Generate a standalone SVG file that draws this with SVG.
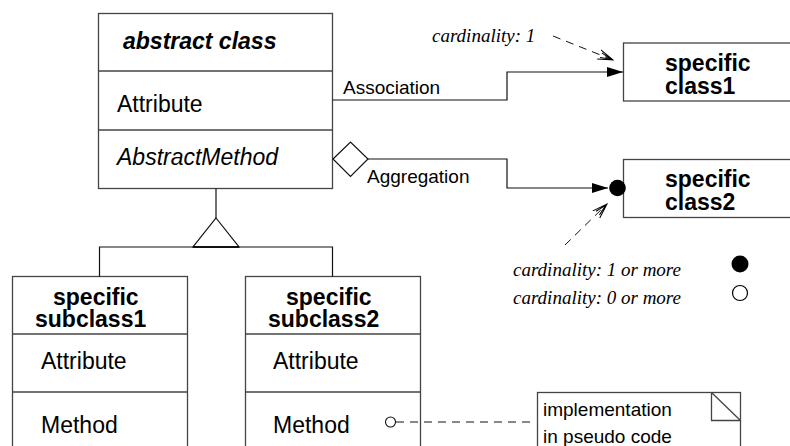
<svg xmlns="http://www.w3.org/2000/svg" width="790" height="446" viewBox="0 0 790 446">
<defs>
<style>
.box{fill:#fff;stroke:#444;stroke-width:1.3}
.ln{fill:none;stroke:#111;stroke-width:1.2}
.dash{fill:none;stroke:#111;stroke-width:1;stroke-dasharray:8 6}
.t{font-family:"Liberation Sans",Arial,sans-serif;font-size:23px;fill:#000}
.b{font-weight:bold}
.i{font-style:italic}
.lbl{font-family:"Liberation Sans",Arial,sans-serif;font-size:19px;fill:#000}
.card{font-family:"Liberation Serif","Times New Roman",serif;font-style:italic;font-size:19px;fill:#000}
</style>
<marker id="filled" markerWidth="16" markerHeight="12" refX="16" refY="6" orient="auto" markerUnits="userSpaceOnUse">
<path d="M0,1 L16,6 L0,11 Z" fill="#000"/>
</marker>
<marker id="open" markerWidth="16" markerHeight="12" refX="15" refY="6" orient="auto" markerUnits="userSpaceOnUse">
<path d="M0,1 L15,6 L0,11 M2,3.5 L13,6 L2,8.5" fill="none" stroke="#000" stroke-width="1"/>
</marker>
</defs>

<g id="abstract-class">
<rect class="box" x="98.5" y="13.5" width="234" height="175"/>
<line class="box" x1="98.5" y1="71" x2="332.5" y2="71"/>
<line class="box" x1="98.5" y1="130" x2="332.5" y2="130"/>
<text class="t b i" x="123" y="49">abstract class</text>
<text class="t" x="117" y="112">Attribute</text>
<text class="t i" x="117" y="165">AbstractMethod</text>
</g>

<g id="specific-class1">
<rect class="box" x="623.5" y="43" width="180" height="58"/>
<text class="t b" x="665" y="71">specific</text>
<text class="t b" x="665" y="94">class1</text>
</g>

<g id="specific-class2">
<rect class="box" x="623.5" y="159.5" width="180" height="58"/>
<text class="t b" x="665" y="187">specific</text>
<text class="t b" x="665" y="210">class2</text>
</g>

<g id="specific-subclass1">
<rect class="box" x="12.5" y="276.5" width="175" height="190"/>
<line class="box" x1="12.5" y1="334" x2="187.5" y2="334"/>
<line class="box" x1="12.5" y1="392" x2="187.5" y2="392"/>
<text class="t b" x="53" y="305">specific</text>
<text class="t b" x="35" y="327">subclass1</text>
<text class="t" x="41" y="369">Attribute</text>
<text class="t" x="41" y="433">Method</text>
</g>

<g id="specific-subclass2">
<rect class="box" x="245.5" y="276.5" width="175" height="190"/>
<line class="box" x1="245.5" y1="334" x2="420.5" y2="334"/>
<line class="box" x1="245.5" y1="392" x2="420.5" y2="392"/>
<text class="t b" x="286" y="305">specific</text>
<text class="t b" x="268" y="327">subclass2</text>
<text class="t" x="273" y="369">Attribute</text>
<text class="t" x="273" y="433">Method</text>
</g>

<g id="note">
<rect class="box" x="537.5" y="392.5" width="203" height="70"/>
<path class="box" d="M711.5,392.5 L711.5,420.5 L740.5,420.5 M711.5,392.5 L740.5,420.5" fill="none"/>
<text class="lbl" x="543" y="416">implementation</text>
<text class="lbl" x="543" y="443">in pseudo code</text>
</g>

<g id="legend">
<circle cx="740" cy="264" r="8.5" fill="#000"/>
<circle cx="740" cy="293" r="7.5" fill="#fff" stroke="#000" stroke-width="1.2"/>
<text class="card" x="513" y="276">cardinality: 1 or more</text>
<text class="card" x="513" y="304">cardinality: 0 or more</text>
</g>

<g id="connectors">
<!-- generalization -->
<line class="ln" x1="216" y1="188.5" x2="216" y2="218"/>
<polyline class="ln" points="99.5,276.5 99.5,247 332.5,247 332.5,276.5"/>
<path d="M216,218 L239,247 L193,247 Z" fill="#fff" stroke="#111" stroke-width="1.2"/>
<line x1="193" y1="247" x2="239" y2="247" stroke="#111" stroke-width="2"/>
<!-- association -->
<polyline class="ln" points="332.5,100 507,100 507,72 623,72" marker-end="url(#filled)"/>
<text class="lbl" x="343" y="94">Association</text>
<!-- aggregation -->
<path d="M333,159 L350.5,142 L368,159 L350.5,176.5 Z" fill="#fff" stroke="#111" stroke-width="1.2"/>
<polyline class="ln" points="368,159 507,159 507,188 608,188" marker-end="url(#filled)"/>
<circle cx="617.5" cy="188" r="8.3" fill="#000"/>
<text class="lbl" x="367" y="183">Aggregation</text>
<!-- cardinality pointers -->
<text class="card" x="432" y="42">cardinality: 1</text>
<line class="dash" x1="553" y1="36" x2="613" y2="60" marker-end="url(#open)"/>
<line class="dash" x1="565" y1="245" x2="607" y2="204" marker-end="url(#open)"/>
<!-- note link -->
<circle cx="390.5" cy="422" r="5" fill="#fff" stroke="#111" stroke-width="1.1"/>
<line class="dash" x1="396" y1="422" x2="532" y2="422"/>
</g>
</svg>
